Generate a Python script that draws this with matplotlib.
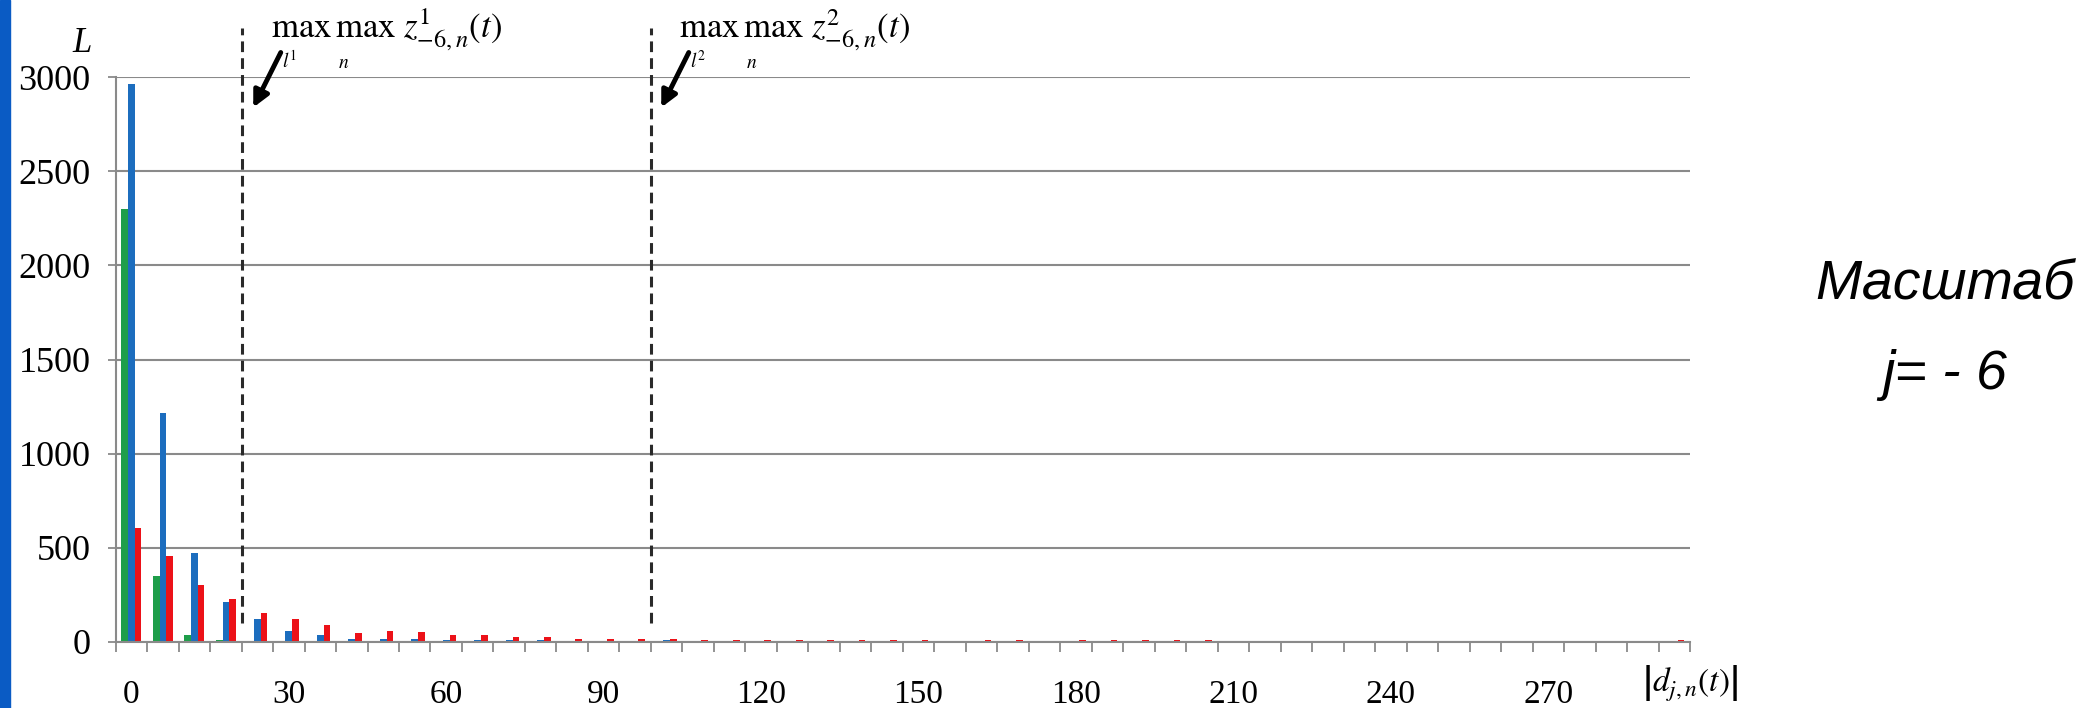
import numpy as np
import matplotlib.pyplot as plt
from matplotlib.patches import Rectangle

# dane: klasy |d_j,n(t)| co 6, liczba L w kazdej klasie
bins = np.arange(0, 300, 6)          # 50 klas: 0, 6, ..., 294
tick_labels = ['0', '30', '60', '90', '120', '150', '180', '210', '240', '270']

green = [2300, 352, 35, 8] + [0] * 46

blue = [2962, 1215, 470, 215, 122, 58, 37, 15, 14, 14,
        12, 12, 12, 10, 5, 4, 3, 8] + [0] * 32

red = [607, 458, 301, 226, 152, 122, 90, 46, 57, 51,
       37, 38, 28, 28, 18, 16, 15, 14, 10, 10,
       12, 12, 10, 10, 12, 12, 0, 10, 12, 0,
       10, 12, 12, 10, 10] + [0] * 14 + [10]

# granice (kreskowane linie) w jednostkach klas
limit1 = 3.5
limit2 = 16.5

W, H = 2079, 708
plt.rcParams['mathtext.fontset'] = 'stix'
plt.rcParams['font.family'] = 'Liberation Serif'

fig = plt.figure(figsize=(W / 100, H / 100), dpi=100)
ax = fig.add_axes([115.6 / W, 66 / H, (1690 - 115.6) / W, (642 - 77) / H])

x = np.arange(len(bins))
width = 0.21
ax.bar(x - width, green, width, color='#1E9E4A')
ax.bar(x, blue, width, color='#1C6DBE')
ax.bar(x + width, red, width, color='#EC1118')

ax.set_xlim(-0.5, len(bins) - 0.5)
ax.set_ylim(0, 3000)

gray = '#8a8a8a'
ax.set_yticks(range(0, 3001, 500))
ax.yaxis.grid(True, color=gray, lw=1.5)
ax.set_axisbelow(True)
for s in ['top', 'right']:
    ax.spines[s].set_visible(False)
for s in ['left', 'bottom']:
    ax.spines[s].set_color(gray)
    ax.spines[s].set_linewidth(1.5)

ax.set_xticks(x[::5])
ax.set_xticklabels(tick_labels)
ax.set_xticks(np.arange(-0.5, len(bins), 1), minor=True)
ax.tick_params(axis='x', which='major', length=0, pad=27, labelsize=24)
ax.tick_params(axis='x', which='minor', length=7, width=1.3, color=gray)
ax.tick_params(axis='y', length=6, width=1.3, color=gray, pad=12, labelsize=26)

# linie kreskowane
for lim in [limit1, limit2]:
    ax.plot([lim, lim], [100, 3260], color='#2a2a2a', lw=2.2,
            ls=(0, (3.5, 2)), clip_on=False)

def fx(px):
    return px / W

def fy(py):
    return 1 - py / H

# opisy nad liniami
for dx, sup in [(0, '1'), (408, '2')]:
    fig.text(fx(271 + dx), fy(38), r'$\mathrm{max}\,\mathrm{max}\ z^{%s}_{-6,n}(t)$' % sup,
             fontsize=25, va='baseline', ha='left')
    fig.text(fx(290 + dx), fy(68), r'$l^{%s}$' % sup, fontsize=14, ha='center', va='baseline')
    fig.text(fx(344 + dx), fy(68), r'$n$', fontsize=14, ha='center', va='baseline')
    ax.annotate('', xy=(252 + dx, H - 110), xytext=(282 + dx, H - 50),
                xycoords='figure pixels', textcoords='figure pixels',
                arrowprops=dict(arrowstyle='-|>', lw=3.5, color='black', mutation_scale=24))

fig.text(fx(82), fy(44), 'L', fontsize=25, style='italic', ha='center', va='center')
fig.text(fx(1690), fy(684), r'$\left|d_{j,n}(t)\right|$', fontsize=24, ha='center', va='center')

fig.text(fx(1945), fy(285), 'Масштаб', fontsize=40, style='italic',
         family='Liberation Sans', ha='center', va='center')
fig.text(fx(1945), fy(375), 'j= - 6', fontsize=40, style='italic',
         family='Liberation Sans', ha='center', va='center')

# niebieski pasek z lewej (tlo slajdu)
fig.patches.append(Rectangle((0, 0), 10 / W, 1, transform=fig.transFigure,
                             color='#0A5BC4', zorder=0))

plt.savefig('out.png', dpi=100)
plt.close()
